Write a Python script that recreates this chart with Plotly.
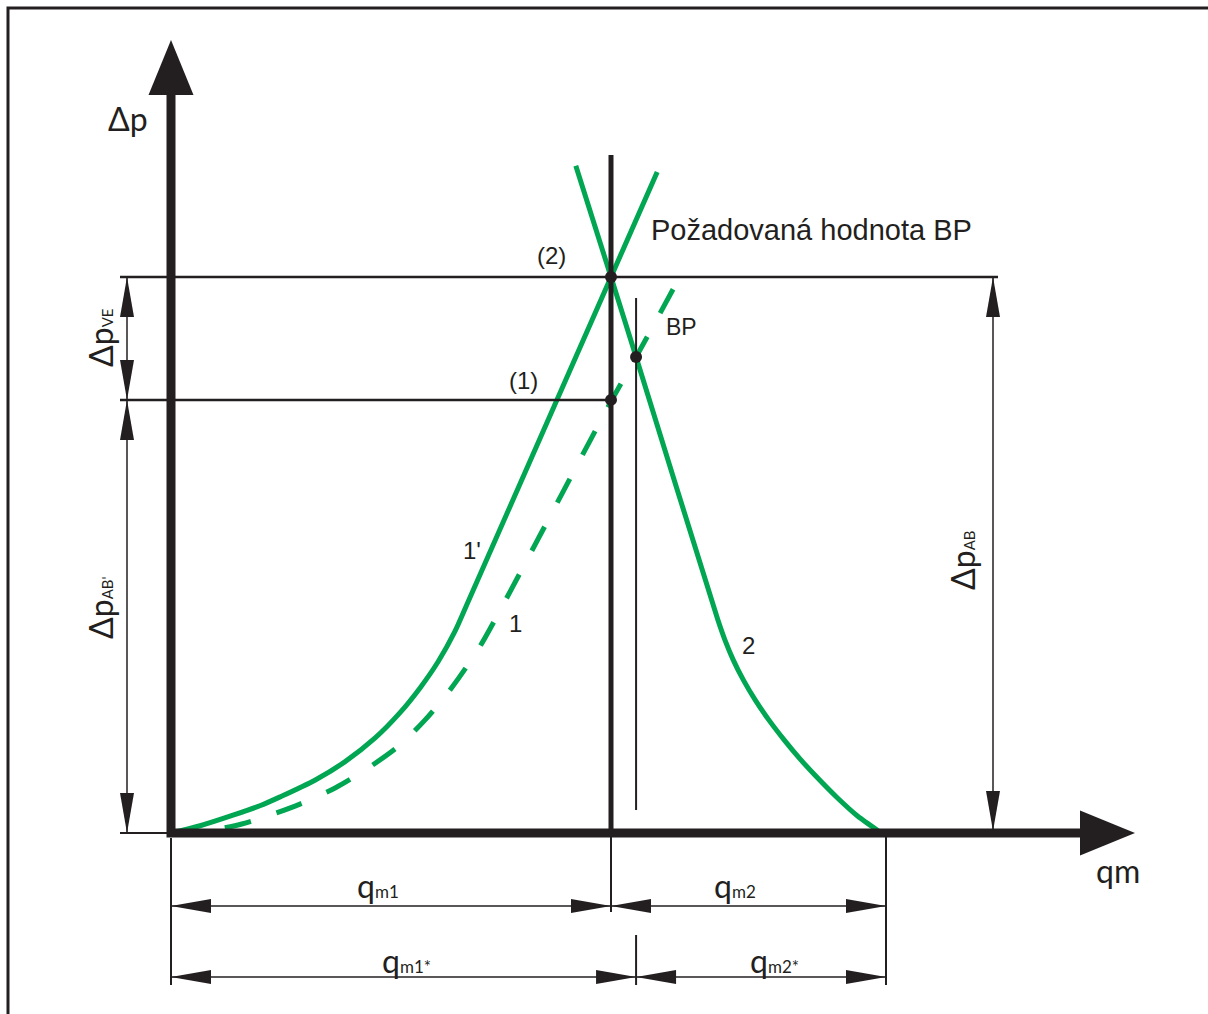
import plotly.graph_objects as go

# ---- characteristic curves (q in % of q_m1, dp in % of dp_AB) ----
q_curve_1p = [0, 6.6, 14.1, 20.2, 24.8, 32.7, 39.5, 46.4, 52.0, 56.6, 60.7, 64.5, 67.7, 100, 110.5]
dp_curve_1p = [0, 1.3, 3.2, 4.9, 6.5, 9.5, 12.8, 17.1, 21.6, 26.1, 30.8, 36.2, 41.9, 100, 118.9]

q_curve_1 = [0, 7.7, 14.5, 21.4, 29.3, 37.3, 45.2, 52.0, 57.7, 62.7, 67.0, 70.7, 100.2, 105.7, 116.1]
dp_curve_1 = [0, 0.4, 1.3, 2.9, 5.2, 8.1, 11.9, 15.8, 20.3, 25.0, 29.7, 34.2, 77.9, 85.6, 100.7]

q_curve_2 = [92.0, 100, 105.7, 124.3, 125.9, 127.8, 130.1, 132.8, 135.9, 139.3,
             143.1, 147.2, 151.6, 156.1, 160.7]
dp_curve_2 = [120.0, 100, 85.6, 38.3, 34.7, 31.1, 27.5, 23.9, 20.3, 16.8,
              13.2, 9.7, 6.2, 3.0, 0.4]

# ---- characteristic values ----
q_m1 = 100.0        # required BP setting
q_bp = 105.7        # actual BP position
q_total = 162.5     # end of the flow range
dp_ab = 100.0       # point (2)
dp_ab1 = 77.9       # point (1)
dp_bp = 85.6        # intersection BP / curve 2

points_q = [q_m1, q_bp, q_m1]
points_dp = [dp_ab, dp_bp, dp_ab1]

# ---- page geometry ----
W, H = 1208, 1014
OX, OY = 171, 833          # origin in page pixels
SX, SY = 4.4, 5.56         # pixels per data unit

BLACK = "#231f20"
GREEN = "#00a651"


def ux(px):
    return px / SX


def uy(px):
    return px / SY


shapes = []


def line(x0, y0, x1, y1, w=2, color=BLACK):
    shapes.append(dict(type="line", x0=x0, y0=y0, x1=x1, y1=y1,
                       line=dict(color=color, width=w), layer="above"))


def tri(x, y, direction, length=40, width=14):
    L, h = length, width / 2
    if direction == "left":
        pts = [(x, y), (x + ux(L), y + uy(h)), (x + ux(L), y - uy(h))]
    elif direction == "right":
        pts = [(x, y), (x - ux(L), y + uy(h)), (x - ux(L), y - uy(h))]
    elif direction == "up":
        pts = [(x, y), (x - ux(h), y - uy(L)), (x + ux(h), y - uy(L))]
    else:
        pts = [(x, y), (x - ux(h), y + uy(L)), (x + ux(h), y + uy(L))]
    path = "M " + " L ".join(f"{a:.4f},{b:.4f}" for a, b in pts) + " Z"
    shapes.append(dict(type="path", path=path, fillcolor=BLACK,
                       line=dict(width=0), layer="above"))


# frame (left and top edges)
shapes.append(dict(type="path", xref="paper", yref="paper",
                   path=f"M {8/W:.5f},0 L {8/W:.5f},{1-8/H:.5f} L 1,{1-8/H:.5f}",
                   line=dict(color=BLACK, width=3)))

# main axes
y_axis_top = uy(OY - 95)
x_axis_end = ux(1080 - OX)
shapes.append(dict(type="path",
                   path=f"M 0,{y_axis_top:.3f} L 0,0 L {x_axis_end:.3f},0",
                   line=dict(color=BLACK, width=9), layer="above"))
tri(0, uy(OY - 40), "up", length=55, width=45)
tri(ux(1135 - OX), 0, "right", length=55, width=45)

# required BP line and BP line
line(q_m1, 0, q_m1, uy(OY - 155), w=5)
line(q_bp, uy(OY - 810), q_bp, uy(OY - 298), w=2)

# horizontal extension lines
line(ux(120 - OX), dp_ab, ux(998 - OX), dp_ab, w=2.5)
line(ux(120 - OX), dp_ab1, q_m1, dp_ab1, w=2.5)
line(ux(120 - OX), 0, 0, 0, w=2)

# left vertical dimensions
xd = ux(127 - OX)
line(xd, dp_ab, xd, dp_ab1, w=1.5)
tri(xd, dp_ab, "up")
tri(xd, dp_ab1, "down")
line(xd, dp_ab1, xd, 0, w=1.5)
tri(xd, dp_ab1, "up")
tri(xd, 0, "down")

# right vertical dimension
xr = ux(993 - OX)
line(xr, dp_ab, xr, uy(2), w=1.5)
tri(xr, dp_ab, "up")
tri(xr, uy(2), "down")

# bottom extension lines
y_low = uy(OY - 985)
line(0, uy(OY - 838), 0, y_low, w=2)
line(q_m1, 0, q_m1, uy(OY - 912), w=2)
line(q_bp, uy(OY - 935), q_bp, y_low, w=2)
line(q_total, uy(2), q_total, y_low, w=2)

# bottom dimension rows
y1 = uy(OY - 906)
y2 = uy(OY - 977)
line(0, y1, q_total, y1, w=1.5)
tri(0, y1, "left")
tri(q_m1, y1, "right")
tri(q_m1, y1, "left")
tri(q_total, y1, "right")
line(0, y2, q_total, y2, w=1.5)
tri(0, y2, "left")
tri(q_bp, y2, "right")
tri(q_bp, y2, "left")
tri(q_total, y2, "right")

fig = go.Figure()

fig.add_trace(go.Scatter(x=q_curve_1, y=dp_curve_1, mode="lines",
                         line=dict(color=GREEN, width=5, dash="27px,27px",
                                   shape="spline", smoothing=0.8),
                         hoverinfo="skip"))
fig.add_trace(go.Scatter(x=q_curve_1p, y=dp_curve_1p, mode="lines",
                         line=dict(color=GREEN, width=5, shape="spline", smoothing=0.8),
                         hoverinfo="skip"))
fig.add_trace(go.Scatter(x=q_curve_2, y=dp_curve_2, mode="lines",
                         line=dict(color=GREEN, width=5, shape="spline", smoothing=0.6),
                         hoverinfo="skip"))
fig.add_trace(go.Scatter(x=points_q, y=points_dp, mode="markers",
                         marker=dict(color=BLACK, size=12), hoverinfo="skip"))

GEO = "Lato, 'DejaVu Sans', sans-serif"
ARIAL = "'Liberation Sans', Arial, sans-serif"


def sub(main, small, size=17):
    return f"{main}<span style='font-size:{size}px'>{small}</span>"


annotations = [
    dict(x=ux(128 - OX), y=uy(OY - 118), text="Δp", font=dict(size=32, family=GEO)),
    dict(x=ux(1118 - OX), y=uy(OY - 870), text="qm", font=dict(size=32, family=GEO)),
    dict(x=ux(551 - OX), y=uy(OY - 255), text="(2)", font=dict(size=24, family=ARIAL)),
    dict(x=ux(523 - OX), y=uy(OY - 380), text="(1)", font=dict(size=24, family=ARIAL)),
    dict(x=ux(681 - OX), y=uy(OY - 327), text="BP", font=dict(size=23, family=ARIAL)),
    dict(x=ux(649 - OX), y=uy(OY - 230), text="Požadovaná hodnota BP",
         font=dict(size=29, family=ARIAL), xanchor="left"),
    dict(x=ux(472 - OX), y=uy(OY - 550), text="1'", font=dict(size=24, family=ARIAL)),
    dict(x=ux(515 - OX), y=uy(OY - 623), text="1", font=dict(size=24, family=ARIAL)),
    dict(x=ux(748 - OX), y=uy(OY - 645), text="2", font=dict(size=24, family=ARIAL)),
    dict(x=ux(100 - OX), y=uy(OY - 338), text=sub("Δp", "VE", 15),
         font=dict(size=32, family=GEO), textangle=-90),
    dict(x=ux(100 - OX), y=uy(OY - 608), text=sub("Δp", "AB'", 15),
         font=dict(size=32, family=GEO), textangle=-90),
    dict(x=ux(962 - OX), y=uy(OY - 560), text=sub("Δp", "AB", 15),
         font=dict(size=32, family=GEO), textangle=-90),
    dict(x=ux(378 - OX), y=uy(OY - 885), text=sub("q", "m1"), font=dict(size=32, family=GEO)),
    dict(x=ux(735 - OX), y=uy(OY - 885), text=sub("q", "m2"), font=dict(size=32, family=GEO)),
    dict(x=ux(406 - OX), y=uy(OY - 960), text=sub("q", "m1*"), font=dict(size=32, family=GEO)),
    dict(x=ux(774 - OX), y=uy(OY - 960), text=sub("q", "m2*"), font=dict(size=32, family=GEO)),
]
for a in annotations:
    a.setdefault("xanchor", "center")
    a.update(xref="x", yref="y", showarrow=False, yanchor="middle")
    a["font"]["color"] = BLACK

fig.update_layout(
    width=W, height=H, autosize=False,
    margin=dict(l=0, r=0, t=0, b=0, pad=0),
    paper_bgcolor="white", plot_bgcolor="white",
    showlegend=False,
    xaxis=dict(range=[-OX / SX, (W - OX) / SX], visible=False, fixedrange=True),
    yaxis=dict(range=[-(H - OY) / SY, OY / SY], visible=False, fixedrange=True),
    shapes=shapes,
    annotations=annotations,
)

fig.write_html("out.html", config={"displayModeBar": False})
